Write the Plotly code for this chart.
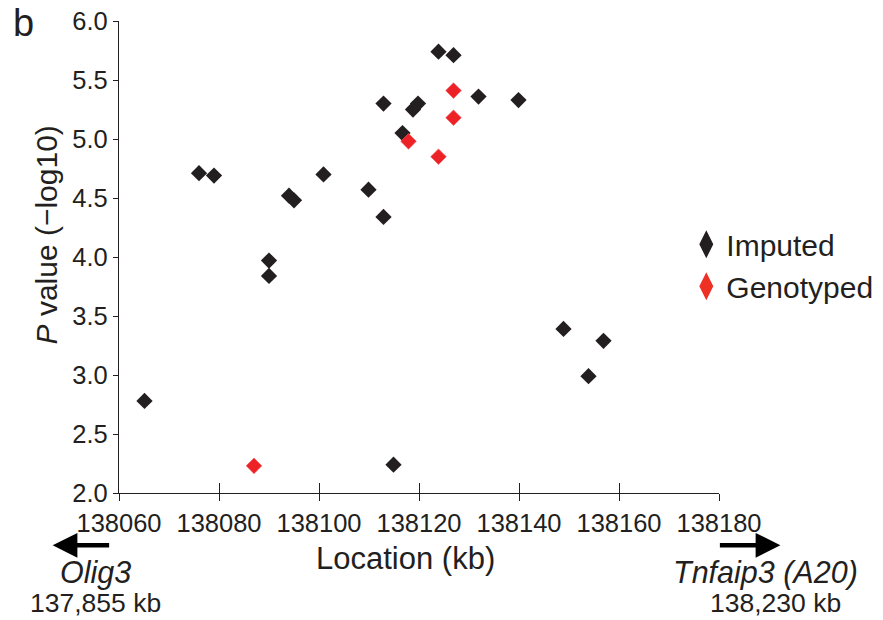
import plotly.graph_objects as go

# Data (location in kb, -log10 P)
imputed_x = [138065.1, 138076.0, 138079.0, 138094.0, 138095.0, 138090.0, 138090.0,
             138100.9, 138109.9, 138112.9, 138112.9, 138116.7, 138118.8, 138119.8,
             138123.9, 138126.9, 138131.9, 138139.9, 138148.9, 138156.9, 138153.9,
             138114.9]
imputed_y = [2.78, 4.71, 4.69, 4.52, 4.48, 3.97, 3.84,
             4.70, 4.57, 4.34, 5.30, 5.05, 5.25, 5.30,
             5.74, 5.71, 5.36, 5.33, 3.39, 3.29, 2.99,
             2.24]
genotyped_x = [138087.0, 138117.9, 138123.9, 138126.9, 138126.9]
genotyped_y = [2.23, 4.98, 4.85, 5.41, 5.18]

x_ticks = [138060, 138080, 138100, 138120, 138140, 138160, 138180]
y_ticks = [2.0, 2.5, 3.0, 3.5, 4.0, 4.5, 5.0, 5.5, 6.0]

BLACK = "#231f20"
RED = "#ed2226"
FONT = "Liberation Sans, Arial, sans-serif"

fig = go.Figure()
fig.add_trace(go.Scatter(x=imputed_x, y=imputed_y, mode="markers", name="Imputed",
                         marker=dict(symbol="diamond", size=12.5, color=BLACK),
                         cliponaxis=False, showlegend=False))
fig.add_trace(go.Scatter(x=genotyped_x, y=genotyped_y, mode="markers", name="Genotyped",
                         marker=dict(symbol="diamond", size=12, color=RED,
                                     line=dict(width=0.6, color="#f4535a")),
                         cliponaxis=False, showlegend=False))
# legend entries (larger symbols, as in the original key)
fig.add_trace(go.Scatter(x=[None], y=[None], mode="markers", name="Imputed",
                         marker=dict(symbol="diamond-tall", size=16, color=BLACK,
                                     line=dict(width=2.5, color=BLACK))))
fig.add_trace(go.Scatter(x=[None], y=[None], mode="markers", name="Genotyped",
                         marker=dict(symbol="diamond-tall", size=16, color="#ee3124",
                                     line=dict(width=2.5, color="#ee3124"))))

fig.update_layout(
    width=883, height=620,
    margin=dict(l=119, r=164, t=21, b=127, pad=0, autoexpand=False),
    paper_bgcolor="white", plot_bgcolor="white",
    font=dict(family=FONT, color=BLACK, size=25),
    showlegend=True,
    legend=dict(x=0.9455, y=0.582, xanchor="left", yanchor="top",
                font=dict(size=30, color=BLACK), bgcolor="rgba(0,0,0,0)",
                itemsizing="trace", tracegroupgap=0),
    xaxis=dict(range=[138060, 138180], tickmode="array", tickvals=x_ticks,
               ticktext=[str(v) for v in x_ticks], automargin=False,
               showgrid=False, zeroline=False, showline=True, linecolor=BLACK,
               linewidth=1.2, ticks="outside", ticklen=7, tickwidth=1.2, tickcolor=BLACK,
               tickfont=dict(size=25.5, color=BLACK)),
    xaxis2=dict(range=[138060, 138180], overlaying="x", side="bottom", anchor="y",
                tickmode="array", tickvals=x_ticks[1:], showticklabels=False,
                showgrid=False, zeroline=False, showline=False, automargin=False,
                ticks="inside", ticklen=10, tickwidth=1.2, tickcolor=BLACK),
    yaxis=dict(range=[2, 6], tickmode="array", tickvals=y_ticks,
               ticktext=[f"{v:.1f}" for v in y_ticks], automargin=False,
               showgrid=False, zeroline=False, showline=True, linecolor=BLACK,
               linewidth=1.2, ticks="outside", ticklen=5, tickwidth=1.2, tickcolor=BLACK,
               tickfont=dict(size=25.5, color=BLACK)),
)

# dummy trace to activate xaxis2 ticks
fig.add_trace(go.Scatter(x=[None], y=[None], xaxis="x2", yaxis="y", showlegend=False,
                         hoverinfo="skip"))

ann = [
    dict(text="b", x=-0.159, y=0.995, xref="paper", yref="paper", showarrow=False,
         font=dict(size=38, color=BLACK), xanchor="center", yanchor="middle"),
    dict(text="<i>P</i> value (\u2212log10)", x=-0.1206, y=0.547, xref="paper", yref="paper",
         showarrow=False, textangle=-90, font=dict(size=30, color=BLACK),
         xanchor="center", yanchor="middle"),
    dict(text="Location (kb)", x=0.4767, y=-0.138, xref="paper", yref="paper", showarrow=False,
         font=dict(size=31, color=BLACK), xanchor="center", yanchor="middle"),
    # left arrow (Olig3)
    dict(text="", x=-0.1106, y=-0.1108, xref="paper", yref="paper", showarrow=True,
         ax=58, ay=0, axref="pixel", ayref="pixel", arrowhead=2, arrowsize=1.1,
         arrowwidth=4.5, arrowcolor="#000000"),
    dict(text="<i>Olig3</i>", x=-0.0389, y=-0.168, xref="paper", yref="paper", showarrow=False,
         font=dict(size=30.5, color=BLACK), xanchor="center", yanchor="middle"),
    dict(text="137,855 kb", x=-0.0389, y=-0.2335, xref="paper", yref="paper", showarrow=False,
         font=dict(size=26.5, color=BLACK), xanchor="center", yanchor="middle"),
    # right arrow (Tnfaip3)
    dict(text="", x=1.1023, y=-0.1108, xref="paper", yref="paper", showarrow=True,
         ax=-62, ay=0, axref="pixel", ayref="pixel", arrowhead=2, arrowsize=1.1,
         arrowwidth=4.5, arrowcolor="#000000"),
    dict(text="<i>Tnfaip3 (A20)</i>", x=1.0772, y=-0.168, xref="paper", yref="paper",
         showarrow=False, font=dict(size=30.5, color=BLACK), xanchor="center", yanchor="middle"),
    dict(text="138,230 kb", x=1.0939, y=-0.2335, xref="paper", yref="paper", showarrow=False,
         font=dict(size=26.5, color=BLACK), xanchor="center", yanchor="middle"),
]
fig.update_layout(annotations=ann)

fig.write_html("out.html", config={"displayModeBar": False},
               post_script="document.body.style.margin='0';")
